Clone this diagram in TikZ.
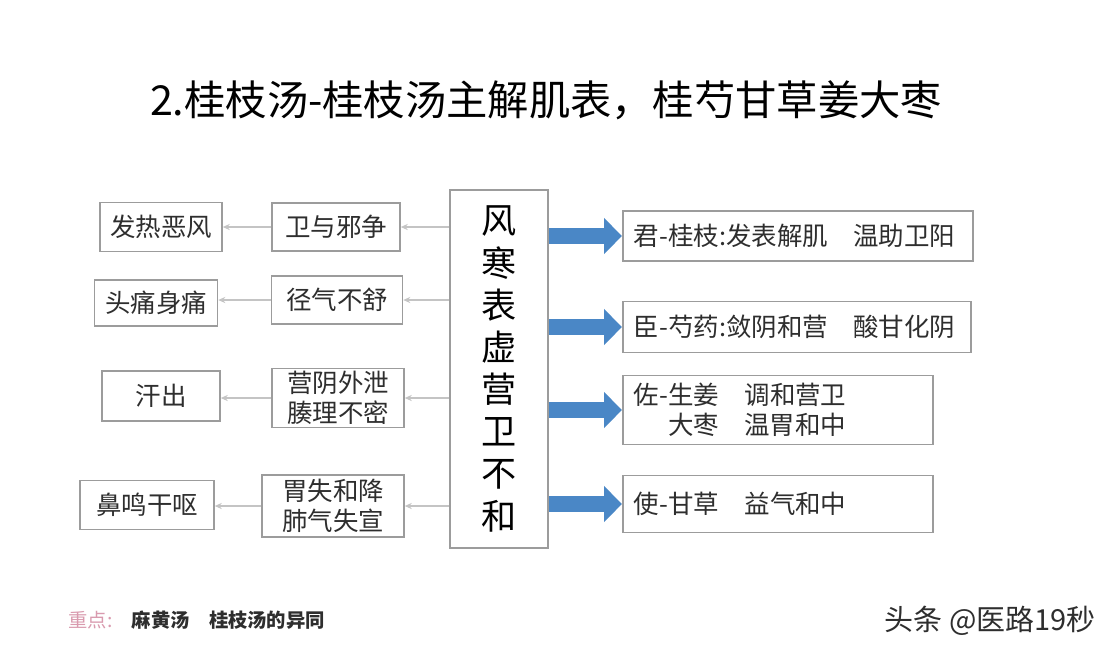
\documentclass[tikz,border=0pt]{standalone}
\usepackage{fontspec}
\setmainfont{Noto Sans CJK SC}
\usetikzlibrary{positioning, arrows.meta}
\definecolor{boxgray}{HTML}{9C9C9C}
\definecolor{linegray}{HTML}{C4C4C4}
\definecolor{arrowblue}{HTML}{4A87C6}
\definecolor{textgray}{HTML}{2E2E2E}
\definecolor{notepink}{HTML}{D99AAE}

\begin{document}
\begin{tikzpicture}[x=0.02cm, y=-0.02cm,
        % estilos de las cajas y flechas
        sbox/.style={
            draw=boxgray,
            line width=0.9pt,
            fill=white,
            text=textgray,
            font=\fontsize{14.5}{17}\selectfont,
            align=center,
            inner sep=0pt
        },
        rbox/.style={sbox, anchor=west, align=left, inner xsep=0.22cm},
        lnk/.style={draw=linegray, line width=0.7pt, -{Stealth[length=4pt, width=3.5pt]}},
        bigarrow/.style={draw=arrowblue, line width=0.32cm, -{Triangle[length=0.36cm, width=0.7cm]}}
    ]
        \useasboundingbox[fill=white] (0,0) rectangle (1116,657);

        % Title
        \node[text=black, font=\fontsize{23.5}{28}\selectfont] (title) at (546,100)
            {2.桂枝汤-桂枝汤主解肌表，桂芍甘草姜大枣};

        % Nodes
        \node[sbox, minimum width=1.96cm, minimum height=7.16cm,
              font=\fontsize{20}{24}\selectfont, text=black] (core) at (499,369)
            {风\\寒\\表\\虚\\营\\卫\\不\\和};

        \node[sbox, minimum width=2.56cm, minimum height=0.96cm] (w1) at (336,227) {卫与邪争};
        \node[sbox, minimum width=2.62cm, minimum height=0.96cm] (w2) at (337,300) {径气不舒};
        \node[sbox, minimum width=2.64cm, minimum height=1.18cm] (w3) at (338,398) {营阴外泄\\腠理不密};
        \node[sbox, minimum width=2.84cm, minimum height=1.24cm] (w4) at (333,506) {胃失和降\\肺气失宣};

        \node[sbox, minimum width=2.44cm, minimum height=0.98cm] (s1) at (161,227) {发热恶风};
        \node[sbox, minimum width=2.46cm, minimum height=0.92cm] (s2) at (156,303) {头痛身痛};
        \node[sbox, minimum width=2.36cm, minimum height=1.00cm] (s3) at (161,396) {汗出};
        \node[sbox, minimum width=2.68cm, minimum height=0.98cm] (s4) at (147,505) {鼻鸣干呕};

        \node[rbox, text width=6.56cm, minimum height=1.00cm] (k1) at (622,236)
            {君-桂枝:发表解肌\quad 温助卫阳};
        \node[rbox, text width=6.52cm, minimum height=1.02cm] (k2) at (622,327)
            {臣-芍药:敛阴和营\quad 酸甘化阴};
        \node[rbox, text width=5.76cm, minimum height=1.38cm] (k3) at (622,410)
            {佐-生姜\quad 调和营卫\\\phantom{佐-}大枣\quad 温胃和中};
        \node[rbox, text width=5.76cm, minimum height=1.14cm] (k4) at (622,504)
            {使-甘草\quad 益气和中};

        % Lines
        \foreach \i in {1,...,4} {
            \draw[lnk] (core.west |- w\i.east) -- (w\i.east);
            \draw[lnk] (w\i.west) -- (w\i.west -| s\i.east);
            \draw[bigarrow] (core.east |- k\i.west) -- (k\i.west);
        }

        % Notes
        \node[anchor=west, font=\fontsize{11}{13}\selectfont, inner sep=0pt] (note) at (68,620)
            {\textcolor{notepink}{重点:}\quad\textcolor{textgray}{\bfseries 麻黄汤\quad 桂枝汤的异同}};
        \node[anchor=east, font=\fontsize{16.5}{19}\selectfont, text=textgray, inner sep=0pt] (mark) at (1096,621)
            {头条 @医路19秒};

    \end{tikzpicture}
\end{document}
